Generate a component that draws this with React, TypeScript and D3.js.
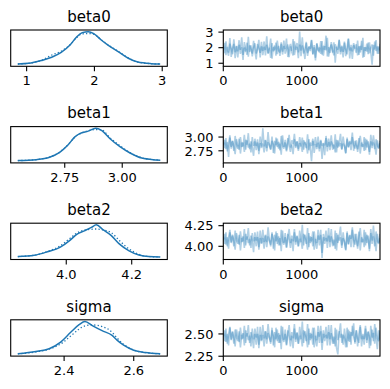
import * as d3 from 'd3';

const params = ['beta0', 'beta1', 'beta2', 'sigma'];

// KDE curves (relative density; chain 0 solid, chain 1 dotted)
const beta0KdeX = [0.87, 1.03, 1.22, 1.37, 1.51, 1.64, 1.74, 1.82, 1.91, 1.99, 2.1, 2.2, 2.35, 2.5, 2.64, 2.84, 2.97];
const beta0KdeA = [0.02, 0.04, 0.13, 0.23, 0.38, 0.61, 0.87, 1.0, 1.03, 0.97, 0.77, 0.61, 0.41, 0.2, 0.08, 0.03, 0.02];
const beta0KdeB = [0.02, 0.04, 0.14, 0.3, 0.42, 0.62, 0.85, 0.96, 0.97, 0.95, 0.78, 0.62, 0.42, 0.21, 0.08, 0.03, 0.02];

const beta1KdeX = [2.546, 2.626, 2.684, 2.728, 2.764, 2.794, 2.815, 2.852, 2.885, 2.91, 2.947, 2.99, 3.034, 3.085, 3.15, 3.165];
const beta1KdeA = [0.02, 0.05, 0.125, 0.28, 0.51, 0.77, 0.87, 0.95, 1.04, 0.97, 0.71, 0.46, 0.26, 0.1, 0.04, 0.03];
const beta1KdeB = [0.02, 0.05, 0.13, 0.29, 0.52, 0.76, 0.86, 0.96, 1.0, 0.99, 0.74, 0.49, 0.27, 0.11, 0.04, 0.03];

const beta2KdeX = [3.852, 3.902, 3.942, 3.982, 4.012, 4.032, 4.057, 4.077, 4.092, 4.112, 4.137, 4.162, 4.192, 4.222, 4.252, 4.287];
const beta2KdeA = [0.04, 0.08, 0.19, 0.34, 0.56, 0.74, 0.86, 0.96, 1.04, 0.89, 0.71, 0.44, 0.22, 0.09, 0.04, 0.03];
const beta2KdeB = [0.04, 0.08, 0.2, 0.38, 0.62, 0.78, 0.88, 0.9, 0.91, 0.88, 0.8, 0.55, 0.28, 0.11, 0.04, 0.03];

const sigmaKdeX = [2.267, 2.319, 2.357, 2.39, 2.419, 2.443, 2.46, 2.481, 2.509, 2.538, 2.552, 2.571, 2.6, 2.633, 2.676];
const sigmaKdeA = [0.02, 0.09, 0.18, 0.39, 0.7, 0.94, 1.04, 0.91, 0.75, 0.6, 0.45, 0.29, 0.13, 0.06, 0.02];
const sigmaKdeB = [0.02, 0.08, 0.17, 0.33, 0.58, 0.8, 0.9, 0.93, 0.88, 0.7, 0.52, 0.32, 0.14, 0.06, 0.02];

// thinned traces, two chains each
const beta0Chain0 = [1.85, 2.31, 1.52, 2.05, 1.68, 2.62, 1.41, 1.97, 2.24, 1.33, 2.12, 1.76, 2.48, 1.6, 2.03, 1.21, 2.36, 1.88, 1.55, 2.7, 1.72, 2.15, 1.44, 1.99, 2.28, 1.63, 1.9, 2.51, 1.37, 2.08, 1.79, 2.4, 1.5, 2.19, 1.66, 1.95, 2.58, 1.29, 2.02, 1.84, 2.33, 1.58, 2.11, 1.47, 2.25, 1.74, 2.45, 1.62, 1.93, 2.2, 1.39, 2.07, 1.81, 2.55, 1.53, 1.98, 2.3, 1.7, 3.03, 1.45, 2.14, 1.86, 1.27, 2.38, 1.65, 2.04, 1.92, 2.47, 1.56, 2.16, 1.35, 2.27, 1.78, 2.01, 1.6, 2.42, 1.49, 2.1, 1.83, 2.64, 1.42, 1.96, 2.21, 1.68, 2.34, 1.04, 2.06, 1.87, 2.52, 1.57, 2.13, 1.73, 2.39, 1.46, 2.0, 2.6, 1.31, 2.18, 1.76, 2.29, 1.94, 2.22, 1.51, 2.09, 1.69, 2.44, 1.36, 2.03, 1.8, 2.26, 1.58, 2.35, 1.72, 0.91, 2.17, 1.89, 2.49, 1.61, 2.07, 1.84];
const beta0Chain1 = [2.12, 1.64, 2.41, 1.79, 1.48, 2.26, 1.95, 1.58, 2.53, 1.71, 2.08, 1.38, 2.19, 1.86, 2.66, 1.54, 2.01, 1.75, 2.32, 1.43, 2.15, 1.91, 1.62, 2.44, 1.8, 1.25, 2.23, 1.97, 1.67, 2.37, 1.52, 2.06, 1.85, 2.73, 1.6, 2.0, 1.34, 2.29, 1.77, 2.13, 1.49, 2.46, 1.83, 1.69, 2.35, 1.56, 2.1, 1.92, 2.58, 1.4, 1.99, 2.24, 1.73, 1.5, 2.41, 1.88, 2.05, 1.32, 2.2, 1.81, 2.67, 1.63, 1.94, 2.3, 1.47, 2.09, 1.78, 2.5, 1.59, 2.02, 1.18, 2.27, 1.9, 1.7, 2.43, 1.55, 2.12, 1.87, 2.77, 1.44, 2.04, 1.66, 2.36, 1.8, 1.51, 2.22, 1.96, 1.61, 2.48, 1.74, 2.07, 1.37, 2.31, 1.89, 1.57, 2.56, 1.82, 2.01, 1.28, 2.17, 1.93, 1.68, 2.45, 1.54, 2.11, 1.86, 2.63, 1.41, 2.03, 1.75, 2.33, 1.64, 1.98, 2.21, 1.48, 2.4, 1.79, 2.08, 1.6, 2.25];
const beta1Chain0 = [2.86, 2.95, 2.78, 2.91, 2.64, 2.99, 2.82, 2.93, 2.75, 3.02, 2.85, 2.79, 2.97, 2.7, 2.9, 2.83, 3.04, 2.77, 2.94, 2.81, 2.88, 2.72, 3.0, 2.84, 2.92, 2.76, 2.96, 2.69, 2.89, 2.8, 3.16, 2.83, 2.95, 2.74, 2.91, 2.86, 2.78, 3.01, 2.71, 2.93, 2.85, 2.97, 2.79, 2.88, 2.68, 3.03, 2.82, 2.9, 2.76, 2.98, 2.84, 2.73, 2.94, 2.87, 3.06, 2.8, 2.92, 2.75, 2.89, 2.83, 2.99, 2.77, 2.91, 2.86, 2.7, 2.96, 2.81, 2.56, 2.93, 2.85, 3.0, 2.78, 2.9, 2.74, 2.95, 2.84, 2.88, 2.67, 3.02, 2.82, 2.97, 2.76, 2.92, 2.86, 2.79, 3.05, 2.72, 2.94, 2.83, 2.89, 2.77, 3.01, 2.85, 2.71, 2.96, 2.81, 2.91, 2.87, 3.08, 2.75, 2.93, 2.84, 2.78, 2.98, 2.7, 2.9, 2.82, 3.0, 2.76, 2.95, 2.86, 2.73, 2.92, 2.8, 3.03, 2.85, 2.68, 2.94, 2.79, 2.89];
const beta1Chain1 = [2.91, 2.8, 2.98, 2.74, 2.87, 3.03, 2.79, 2.93, 2.83, 2.69, 2.96, 2.85, 2.77, 3.0, 2.82, 2.9, 2.73, 2.95, 2.86, 3.07, 2.78, 2.92, 2.81, 2.66, 2.97, 2.84, 2.9, 2.75, 3.01, 2.83, 2.88, 2.72, 2.94, 2.8, 3.09, 2.85, 2.77, 2.93, 2.87, 2.7, 2.99, 2.82, 2.91, 2.76, 3.02, 2.84, 2.79, 2.95, 2.74, 2.89, 3.04, 2.81, 2.86, 2.69, 2.96, 2.83, 2.92, 2.78, 3.0, 2.85, 2.73, 2.94, 2.88, 2.8, 3.05, 2.76, 2.9, 2.84, 2.97, 2.71, 2.87, 2.82, 3.01, 2.79, 2.93, 2.6, 2.89, 2.85, 2.98, 2.74, 2.91, 2.83, 3.03, 2.77, 2.86, 2.72, 2.95, 2.81, 2.9, 3.06, 2.78, 2.88, 2.84, 2.7, 2.99, 2.82, 2.93, 2.76, 3.0, 2.86, 2.79, 2.94, 2.73, 2.89, 3.02, 2.83, 2.87, 2.75, 2.97, 2.81, 2.92, 2.68, 3.04, 2.85, 2.9, 2.78, 2.96, 2.84, 2.8, 2.93];
const beta2Chain0 = [4.08, 4.15, 4.02, 4.11, 3.97, 4.17, 4.05, 4.13, 4.0, 4.19, 4.07, 4.03, 4.14, 3.95, 4.1, 4.06, 4.21, 4.01, 4.12, 4.04, 4.09, 3.98, 4.16, 4.06, 4.11, 4.0, 4.18, 3.96, 4.1, 4.03, 4.2, 4.05, 4.13, 3.99, 4.12, 4.07, 4.02, 4.17, 3.97, 4.14, 4.06, 4.16, 4.01, 4.1, 3.94, 4.19, 4.04, 4.11, 3.99, 4.15, 4.08, 3.98, 4.13, 4.06, 4.21, 4.02, 4.12, 4.0, 4.09, 4.05, 4.26, 4.01, 4.14, 4.07, 3.96, 4.16, 4.04, 4.11, 4.0, 4.18, 4.06, 3.97, 4.13, 4.08, 4.2, 3.86, 4.15, 4.03, 4.1, 4.06, 4.22, 3.99, 4.12, 4.05, 4.01, 4.19, 3.95, 4.14, 4.07, 4.11, 3.98, 4.17, 4.04, 3.96, 4.16, 4.02, 4.13, 4.09, 4.23, 3.99, 4.15, 4.06, 4.0, 4.18, 3.95, 4.11, 4.05, 4.2, 4.01, 4.14, 4.08, 3.97, 4.16, 4.03, 4.25, 4.07, 3.94, 4.15, 4.04, 4.1];
const beta2Chain1 = [4.12, 4.03, 4.17, 4.0, 4.1, 4.2, 4.04, 4.14, 4.07, 3.96, 4.16, 4.09, 4.02, 4.18, 4.05, 4.12, 3.98, 4.15, 4.08, 4.22, 4.01, 4.13, 4.06, 3.93, 4.17, 4.07, 4.11, 3.99, 4.19, 4.04, 4.1, 3.97, 4.14, 4.05, 4.23, 4.08, 4.0, 4.15, 4.09, 3.95, 4.18, 4.03, 4.12, 4.01, 4.2, 4.06, 4.02, 4.16, 3.98, 4.11, 4.21, 4.04, 4.09, 3.94, 4.17, 4.05, 4.13, 4.0, 4.19, 4.07, 3.97, 4.15, 4.1, 4.03, 4.22, 3.99, 4.12, 4.06, 4.18, 3.96, 4.09, 4.04, 4.2, 4.01, 4.14, 3.92, 4.11, 4.07, 4.19, 3.98, 4.13, 4.05, 4.21, 4.0, 4.08, 3.97, 4.16, 4.04, 4.12, 4.24, 4.01, 4.1, 4.06, 3.95, 4.18, 4.03, 4.14, 3.99, 4.2, 4.08, 4.02, 4.15, 3.97, 4.11, 4.22, 4.05, 4.09, 3.99, 4.17, 4.04, 4.13, 3.94, 4.21, 4.07, 4.12, 4.0, 4.18, 4.06, 4.03, 4.15];
const sigmaChain0 = [2.47, 2.54, 2.41, 2.5, 2.37, 2.57, 2.44, 2.52, 2.39, 2.55, 2.46, 2.42, 2.53, 2.35, 2.49, 2.45, 2.59, 2.4, 2.51, 2.43, 2.48, 2.36, 2.56, 2.44, 2.5, 2.38, 2.58, 2.34, 2.49, 2.42, 2.6, 2.45, 2.53, 2.39, 2.51, 2.46, 2.41, 2.57, 2.37, 2.52, 2.44, 2.55, 2.4, 2.49, 2.33, 2.58, 2.43, 2.5, 2.38, 2.54, 2.47, 2.36, 2.52, 2.45, 2.61, 2.41, 2.51, 2.39, 2.48, 2.44, 2.64, 2.4, 2.53, 2.46, 2.35, 2.56, 2.43, 2.5, 2.38, 2.57, 2.45, 2.36, 2.52, 2.47, 2.59, 2.4, 2.54, 2.42, 2.49, 2.45, 2.6, 2.37, 2.51, 2.44, 2.39, 2.57, 2.34, 2.27, 2.53, 2.46, 2.5, 2.38, 2.56, 2.43, 2.35, 2.55, 2.41, 2.52, 2.48, 2.62, 2.39, 2.54, 2.45, 2.4, 2.58, 2.36, 2.5, 2.44, 2.59, 2.4, 2.53, 2.47, 2.37, 2.55, 2.42, 2.61, 2.46, 2.33, 2.54, 2.43];
const sigmaChain1 = [2.51, 2.42, 2.56, 2.39, 2.49, 2.58, 2.43, 2.53, 2.46, 2.36, 2.55, 2.48, 2.41, 2.57, 2.44, 2.51, 2.37, 2.54, 2.47, 2.6, 2.4, 2.52, 2.45, 2.34, 2.56, 2.46, 2.5, 2.38, 2.58, 2.43, 2.49, 2.36, 2.53, 2.44, 2.61, 2.47, 2.39, 2.54, 2.48, 2.35, 2.57, 2.42, 2.51, 2.4, 2.59, 2.45, 2.41, 2.55, 2.37, 2.5, 2.6, 2.43, 2.48, 2.34, 2.56, 2.44, 2.52, 2.39, 2.58, 2.46, 2.36, 2.54, 2.49, 2.42, 2.61, 2.38, 2.51, 2.45, 2.57, 2.35, 2.48, 2.43, 2.59, 2.4, 2.53, 2.32, 2.5, 2.46, 2.58, 2.37, 2.52, 2.44, 2.6, 2.39, 2.47, 2.36, 2.55, 2.43, 2.51, 2.62, 2.4, 2.49, 2.45, 2.35, 2.57, 2.42, 2.53, 2.38, 2.59, 2.47, 2.41, 2.54, 2.36, 2.5, 2.6, 2.44, 2.48, 2.38, 2.56, 2.43, 2.52, 2.34, 2.59, 2.46, 2.51, 2.39, 2.57, 2.45, 2.42, 2.54];

const kdeXs = [beta0KdeX, beta1KdeX, beta2KdeX, sigmaKdeX];
const kdeAs = [beta0KdeA, beta1KdeA, beta2KdeA, sigmaKdeA];
const kdeBs = [beta0KdeB, beta1KdeB, beta2KdeB, sigmaKdeB];
const traces = [
  [beta0Chain0, beta0Chain1],
  [beta1Chain0, beta1Chain1],
  [beta2Chain0, beta2Chain1],
  [sigmaChain0, sigmaChain1],
];

// tick labels
const kdeTicks = [[1, 2, 3], [2.75, 3.0], [4.0, 4.2], [2.4, 2.6]];
const kdeTickFmt = ['d', '.2f', '.1f', '.1f'];
const traceYTicks = [[1, 2, 3], [2.75, 3.0], [4.0, 4.25], [2.25, 2.5]];
const traceYFmt = ['d', '.2f', '.2f', '.2f'];
const traceXTicks = [0, 1000];
const nDraws = 2000;

const W = 390;
const H = 389;
const C0 = '#1f77b4';
const font = 'DejaVu Sans, sans-serif';
const leftRange: [number, number] = [10.7, 167.3];
const rightRange: [number, number] = [223.3, 380];
const rowTop = 30;
const rowStep = 96.6;
const rowH = 36.3;
const tickLen = 4.9;
const tickPad = 4.9;

const pad = (ext: number[]) => {
  const r = ext[1] - ext[0];
  return [ext[0] - 0.05 * r, ext[1] + 0.05 * r];
};

const Box = ({ x0, x1, y0, y1 }: { x0: number; x1: number; y0: number; y1: number }) => (
  <rect x={x0} y={y0} width={x1 - x0} height={y1 - y0} fill="none" stroke="#000" strokeWidth={1.1} />
);

const Title = ({ x, y, text }: { x: number; y: number; text: string }) => (
  <text x={x} y={y} textAnchor="middle" fontSize={15} fontFamily={font} fill="#000">
    {text}
  </text>
);

export default function App() {
  return (
    <div style={{ position: 'fixed', left: 0, top: 0 }}>
      <svg width={W} height={H} style={{ display: 'block', background: '#fff' }}>
        <defs>
          {params.map((p, i) => {
            const y0 = rowTop + i * rowStep;
            return (
              <clipPath id={`clip-${p}`} key={p}>
                <rect x={rightRange[0]} y={y0} width={rightRange[1] - rightRange[0]} height={rowH} />
              </clipPath>
            );
          })}
        </defs>
        {params.map((p, i) => {
          const y0 = rowTop + i * rowStep;
          const y1 = y0 + rowH;

          // left: KDE
          const kx = kdeXs[i];
          const xs = d3.scaleLinear().domain(pad(d3.extent(kx) as number[])).range(leftRange);
          const maxD = Math.max(d3.max(kdeAs[i])!, d3.max(kdeBs[i])!);
          const ys = d3.scaleLinear().domain([-0.05 * maxD, 1.05 * maxD]).range([y1, y0]);
          const line = d3
            .line<number>()
            .x((_, j) => xs(kx[j]))
            .y((d) => ys(d))
            .curve(d3.curveMonotoneX);
          const fk = d3.format(kdeTickFmt[i]);

          // right: trace
          const chains = traces[i];
          const xt = d3.scaleLinear().domain([0, nDraws - 1]).range(rightRange);
          const yt = d3.scaleLinear().domain(pad(d3.extent(chains.flat()) as number[])).range([y1, y0]);
          const fy = d3.format(traceYFmt[i]);

          return (
            <g key={p}>
              <Title x={(leftRange[0] + leftRange[1]) / 2} y={y0 - 8.3} text={p} />
              <path d={line(kdeAs[i]) ?? ''} fill="none" stroke={C0} strokeWidth={1.5} />
              <path d={line(kdeBs[i]) ?? ''} fill="none" stroke={C0} strokeWidth={1.3} strokeDasharray="1.3 2.2" />
              <Box x0={leftRange[0]} x1={leftRange[1]} y0={y0} y1={y1} />
              {kdeTicks[i].map((t) => (
                <g key={t} transform={`translate(${xs(t)},${y1})`}>
                  <line y2={tickLen} stroke="#000" strokeWidth={1.1} />
                  <text y={tickLen + tickPad + 9.3} textAnchor="middle" fontSize={13} fontFamily={font}>
                    {fk(t)}
                  </text>
                </g>
              ))}

              <Title x={(rightRange[0] + rightRange[1]) / 2} y={y0 - 8.3} text={p} />
              <g clipPath={`url(#clip-${p})`}>
                {chains.map((tr, c) => {
                  const tline = d3
                    .line<number>()
                    .x((_, j) => xt((j * (nDraws - 1)) / (tr.length - 1)))
                    .y((d) => yt(d));
                  return (
                    <path
                      key={c}
                      d={tline(tr) ?? ''}
                      fill="none"
                      stroke={C0}
                      strokeOpacity={0.35}
                      strokeWidth={1.6}
                      strokeLinejoin="bevel"
                    />
                  );
                })}
              </g>
              <Box x0={rightRange[0]} x1={rightRange[1]} y0={y0} y1={y1} />
              {traceXTicks.map((t) => (
                <g key={t} transform={`translate(${xt(t)},${y1})`}>
                  <line y2={tickLen} stroke="#000" strokeWidth={1.1} />
                  <text y={tickLen + tickPad + 9.3} textAnchor="middle" fontSize={13} fontFamily={font}>
                    {t}
                  </text>
                </g>
              ))}
              {traceYTicks[i].map((t) => (
                <g key={t} transform={`translate(${rightRange[0]},${yt(t)})`}>
                  <line x2={-tickLen} stroke="#000" strokeWidth={1.1} />
                  <text x={-tickLen - tickPad} y={4.7} textAnchor="end" fontSize={13} fontFamily={font}>
                    {fy(t)}
                  </text>
                </g>
              ))}
            </g>
          );
        })}
      </svg>
    </div>
  );
}
